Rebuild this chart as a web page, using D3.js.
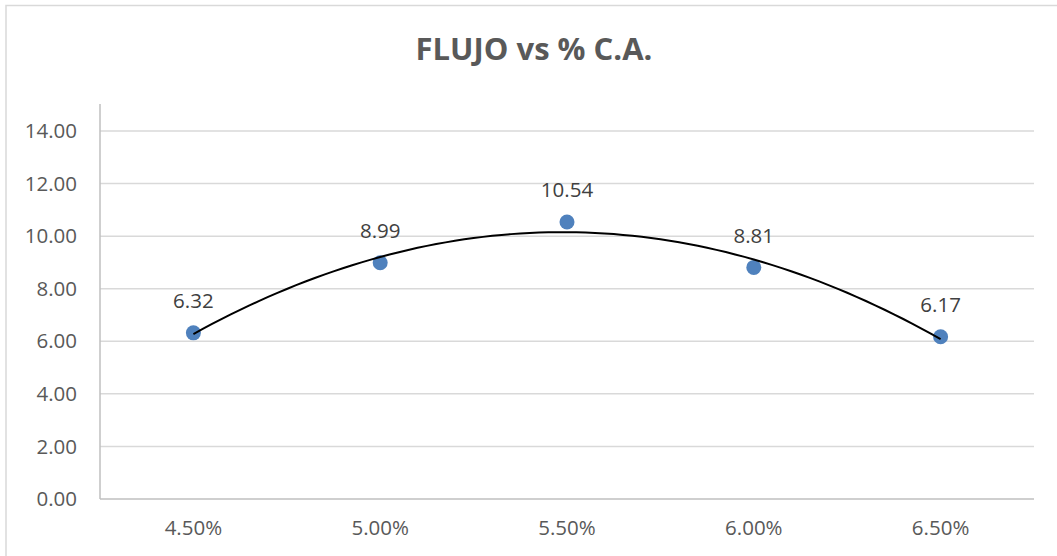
<!DOCTYPE html>
<html>
<head>
<meta charset="utf-8">
<script src="https://cdn.jsdelivr.net/npm/d3@7"></script>
<style>
  html, body { margin: 0; padding: 0; background: #fff; }
  svg { display: block; }
</style>
</head>
<body>
<svg id="chart" width="1057" height="556"></svg>
<script>
const title = "FLUJO vs % C.A.";
const categories = ["4.50%", "5.00%", "5.50%", "6.00%", "6.50%"];
const values = [6.32, 8.99, 10.54, 8.81, 6.17];
const yTicks = [0, 2, 4, 6, 8, 10, 12, 14];

const svg = d3.select("#chart");
const m = { left: 100, right: 1034, top: 131, bottom: 499 };
const font = "'Open Sans', 'Segoe UI', sans-serif";
const fs = 20.5;

// outer chart frame
svg.append("rect")
  .attr("x", 6).attr("y", 5.5).attr("width", 1070).attr("height", 600)
  .attr("fill", "#fff").attr("stroke", "#d9d9d9").attr("stroke-width", 1.5);

const x = d3.scalePoint().domain(categories).range([m.left, m.right]).padding(0.5);
const y = d3.scaleLinear().domain([0, 14]).range([m.bottom, m.top]);

// gridlines
svg.append("g").selectAll("line").data(yTicks.filter(d => d > 0)).join("line")
  .attr("x1", m.left).attr("x2", m.right)
  .attr("y1", d => y(d)).attr("y2", d => y(d))
  .attr("stroke", "#d9d9d9").attr("stroke-width", 1.5);

// y axis line
svg.append("line")
  .attr("x1", m.left).attr("x2", m.left)
  .attr("y1", 104).attr("y2", m.bottom)
  .attr("stroke", "#bfbfbf").attr("stroke-width", 1.5);
// x axis line
svg.append("line")
  .attr("x1", m.left).attr("x2", m.right)
  .attr("y1", m.bottom).attr("y2", m.bottom)
  .attr("stroke", "#bfbfbf").attr("stroke-width", 1.5);

// y tick labels
svg.append("g").selectAll("text").data(yTicks).join("text")
  .attr("x", 77).attr("y", d => y(d)).attr("dy", "0.35em")
  .attr("text-anchor", "end")
  .attr("font-family", font).attr("font-size", fs)
  .attr("fill", "#595959")
  .text(d => d.toFixed(2));

// x tick labels
svg.append("g").selectAll("text").data(categories).join("text")
  .attr("x", d => x(d)).attr("y", 528).attr("dy", "0.35em")
  .attr("text-anchor", "middle")
  .attr("font-family", font).attr("font-size", fs)
  .attr("fill", "#595959")
  .text(d => d);

// polynomial (order 2) trendline, least squares on category index 1..n
const n = values.length;
const xs = values.map((_, i) => i + 1);
let S = [0,0,0,0,0], T = [0,0,0];
xs.forEach((xi, i) => {
  for (let k = 0; k <= 4; k++) S[k] += Math.pow(xi, k);
  for (let k = 0; k <= 2; k++) T[k] += Math.pow(xi, k) * values[i];
});
function solve3(A, b) {
  const M = A.map((r, i) => [...r, b[i]]);
  for (let c = 0; c < 3; c++) {
    let p = c;
    for (let r = c + 1; r < 3; r++) if (Math.abs(M[r][c]) > Math.abs(M[p][c])) p = r;
    [M[c], M[p]] = [M[p], M[c]];
    for (let r = 0; r < 3; r++) if (r !== c) {
      const f = M[r][c] / M[c][c];
      for (let k = c; k < 4; k++) M[r][k] -= f * M[c][k];
    }
  }
  return M.map((r, i) => r[3] / r[i]);
}
const coef = solve3([[S[0],S[1],S[2]],[S[1],S[2],S[3]],[S[2],S[3],S[4]]], T);
const xIdx = d3.scaleLinear().domain([1, n]).range([x(categories[0]), x(categories[n-1])]);
const trend = d3.range(1, n + 0.0001, 0.05).map(t => [t, coef[0] + coef[1]*t + coef[2]*t*t]);

// markers
svg.append("g").selectAll("circle").data(values).join("circle")
  .attr("cx", (d, i) => x(categories[i])).attr("cy", d => y(d))
  .attr("r", 7.5).attr("fill", "#4f81bd");

svg.append("path")
  .datum(trend)
  .attr("d", d3.line().x(d => xIdx(d[0])).y(d => y(d[1])))
  .attr("fill", "none").attr("stroke", "#000").attr("stroke-width", 2);

// data labels
svg.append("g").selectAll("text").data(values).join("text")
  .attr("x", (d, i) => x(categories[i])).attr("y", d => y(d) - 32).attr("dy", "0.35em")
  .attr("text-anchor", "middle")
  .attr("font-family", font).attr("font-size", fs)
  .attr("fill", "#404040")
  .text(d => d.toFixed(2));

// title
svg.append("text")
  .attr("x", 534).attr("y", 49).attr("dy", "0.35em")
  .attr("text-anchor", "middle")
  .attr("font-family", font).attr("font-weight", "bold").attr("font-size", 31)
  .attr("fill", "#595959")
  .text(title);
</script>
</body>
</html>
